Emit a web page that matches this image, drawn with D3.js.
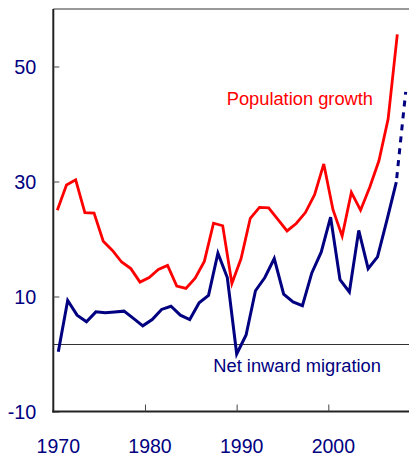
<!DOCTYPE html>
<html>
<head>
<meta charset="utf-8">
<script src="https://cdn.jsdelivr.net/npm/d3@7"></script>
<style>
  html, body { margin: 0; padding: 0; background: #fff; }
  svg { display: block; }
  text { font-family: "Liberation Sans", Arial, sans-serif; }
</style>
</head>
<body>
<svg id="chart" width="409" height="457"></svg>
<script>
// ---- data ----
const years = d3.range(1970, 2008); // 1970 .. 2007
const populationGrowth = [
  25.0, 29.4, 30.3, 24.6, 24.5, 19.6, 18.0, 16.0, 14.85, 12.5,
  13.3, 14.7, 15.4, 11.8, 11.4, 13.2, 16.1, 22.75, 22.3, 12.25,
  16.6, 23.6, 25.5, 25.4, 23.4, 21.4, 22.7, 24.6, 27.7, 33.05,
  25.1, 20.5, 28.1, 25.0, 29.0, 33.6, 40.85, 55.6
];
const netMigration = [
  0.4, 9.3, 6.76, 5.6, 7.33, 7.16, 7.3, 7.45, 6.2, 4.9,
  6.0, 7.75, 8.3, 6.76, 6.0, 8.9, 10.2, 17.55, 13.3, 0.0,
  3.3, 11.0, 13.3, 16.6, 10.4, 9.06, 8.4, 14.1, 17.7, 23.8,
  12.95, 10.8, 21.5, 14.85, 16.9, 23.3, 29.9
];
const migrationProjection = [29.9, 45.6]; // 2006 -> 2007 (dotted)
const projectionYears = [2006, 2007];
const yTicks = [-10, 10, 30, 50];
const yTickLabels = ["-10", "10", "30", "50"];
const xTicks = [1970, 1980, 1990, 2000];
const xTickLabels = ["1970", "1980", "1990", "2000"];
const referenceValue = 1.65;

(function () {
// ---- layout ----
const W = 409, H = 457;
const mLeft = 53.3, mRight = 409, mTop = 9, mBottom = 411.5;
const svg = d3.select("#chart");

const y = d3.scaleLinear().domain([-10, 60]).range([mBottom, mTop]);
const xAxisScale = d3.scaleLinear().domain([1970, 2008.8]).range([mLeft, mRight]);
const xRed = d3.scalePoint().domain(years).range([57.3, 397.3]);
const xNavy = d3.scalePoint().domain(years).range([58.3, 405.7]);

const navy = "#000080", red = "#ff0000";

// top border
svg.append("line").attr("x1", mLeft).attr("x2", W).attr("y1", mTop).attr("y2", mTop)
  .attr("stroke", "#777").attr("stroke-width", 1.5);

// reference line
svg.append("line").attr("x1", mLeft).attr("x2", W)
  .attr("y1", y(referenceValue)).attr("y2", y(referenceValue))
  .attr("stroke", "#333").attr("stroke-width", 1.2);

// y axis
const yAxis = d3.axisLeft(y).tickValues(yTicks).tickSize(-6).tickPadding(0)
  .tickFormat((d, i) => yTickLabels[i]);
const gy = svg.append("g").attr("transform", `translate(${mLeft},0)`).call(yAxis);
gy.select(".domain").attr("stroke", "#222").attr("stroke-width", 2)
  .attr("d", `M0,${mTop}V${mBottom + 1}`);
gy.selectAll(".tick line").attr("stroke", "#444").attr("stroke-width", 1);
gy.selectAll(".tick text").attr("fill", navy).attr("font-size", "19.8px")
  .attr("font-family", "Liberation Sans, Arial, sans-serif")
  .attr("x", -17).attr("dy", "0.36em").attr("text-anchor", "end");

// x axis
const xAxis = d3.axisBottom(xAxisScale).tickValues(xTicks).tickSize(-7).tickPadding(0)
  .tickFormat((d, i) => xTickLabels[i]);
const gx = svg.append("g").attr("transform", `translate(0,${mBottom})`).call(xAxis);
gx.select(".domain").attr("stroke", "#222").attr("stroke-width", 2)
  .attr("d", `M${mLeft - 1},0H${W}`);
gx.selectAll(".tick line").attr("stroke", "#444").attr("stroke-width", 1)
  .filter(d => d === 1970).remove();
gx.selectAll(".tick text").attr("fill", navy).attr("font-size", "19.5px")
  .attr("font-family", "Liberation Sans, Arial, sans-serif")
  .attr("x", 4.5).attr("y", 41).attr("dy", 0);

// lines
const redLine = d3.line().x((d, i) => xRed(years[i])).y(d => y(d));
svg.append("path").datum(populationGrowth).attr("d", redLine)
  .attr("fill", "none").attr("stroke", red).attr("stroke-width", 2.8)
  .attr("stroke-linejoin", "miter");

const navyLine = d3.line().x((d, i) => xNavy(years[i])).y(d => y(d));
svg.append("path").datum(netMigration).attr("d", navyLine)
  .attr("fill", "none").attr("stroke", navy).attr("stroke-width", 3)
  .attr("stroke-linejoin", "miter");

const projLine = d3.line().x((d, i) => xNavy(projectionYears[i])).y(d => y(d));
svg.append("path").datum(migrationProjection).attr("d", projLine)
  .attr("fill", "none").attr("stroke", navy).attr("stroke-width", 3)
  .attr("stroke-dasharray", "6,6").attr("stroke-dashoffset", -4);

// labels
svg.append("text").attr("x", 226.7).attr("y", 105).attr("fill", red)
  .attr("font-size", "18.3px").text("Population growth");
svg.append("text").attr("x", 213.3).attr("y", 372.3).attr("fill", navy)
  .attr("font-size", "18.3px").text("Net inward migration");
})();
</script>
</body>
</html>
